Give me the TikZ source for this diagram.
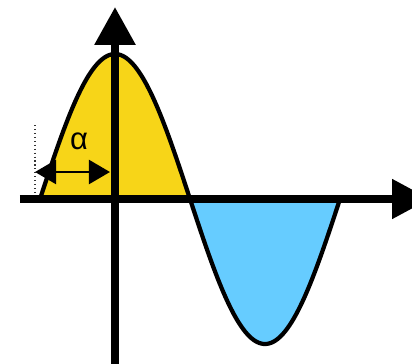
\documentclass[tikz,border=0pt]{standalone}
\usepackage{fontspec}
\setmainfont{Liberation Sans}
\usetikzlibrary{arrows.meta,positioning,calc}

\definecolor{posyellow}{RGB}{247,213,24}
\definecolor{negblue}{RGB}{102,204,255}

\begin{document}
\begin{tikzpicture}[x=0.025cm, y=0.025cm, font=\fontsize{22}{26}\selectfont]
  \useasboundingbox (-115,-164) rectangle (297,199);
  \clip (-115,-164) rectangle (297,199);

  % filled half-waves
  \fill[posyellow] plot[domain=-75:75, samples=80] (\x, {145*cos(1.2*\x)}) -- cycle;
  \fill[negblue] plot[domain=75:225, samples=80] (\x, {145*cos(1.2*\x)}) -- cycle;

  % axes
  \coordinate (xl) at (-95,0);
  \coordinate (xr) at (315,0);
  \coordinate (yb) at (0,-170);
  \coordinate (yt) at (0,192);
  \draw[line width=5.7pt, -{Triangle[length=27pt, width=27pt]}] (xl) -- (xr);
  \draw[line width=5.7pt, -{Triangle[length=27pt, width=28pt]}] (yb) -- (yt);

  % the wave
  \draw[line width=3pt, line join=round] plot[domain=-75:225, samples=150] (\x, {145*cos(1.2*\x)});

  % phase shift
  \coordinate (dtop) at (-80,74);
  \coordinate (dbot) at (-80,4);
  \draw[dotted, line width=0.8pt, black!80] (dtop) -- (dbot);
  \coordinate (ph0) at (-80,27);
  \coordinate (ph1) at (-5,27);
  \draw[line width=2pt, {Triangle[length=15pt, width=17pt]}-{Triangle[length=15pt, width=17pt]}] (ph0) -- (ph1);
  \node (alpha) at (-36,58) {α};
\end{tikzpicture}
\end{document}
